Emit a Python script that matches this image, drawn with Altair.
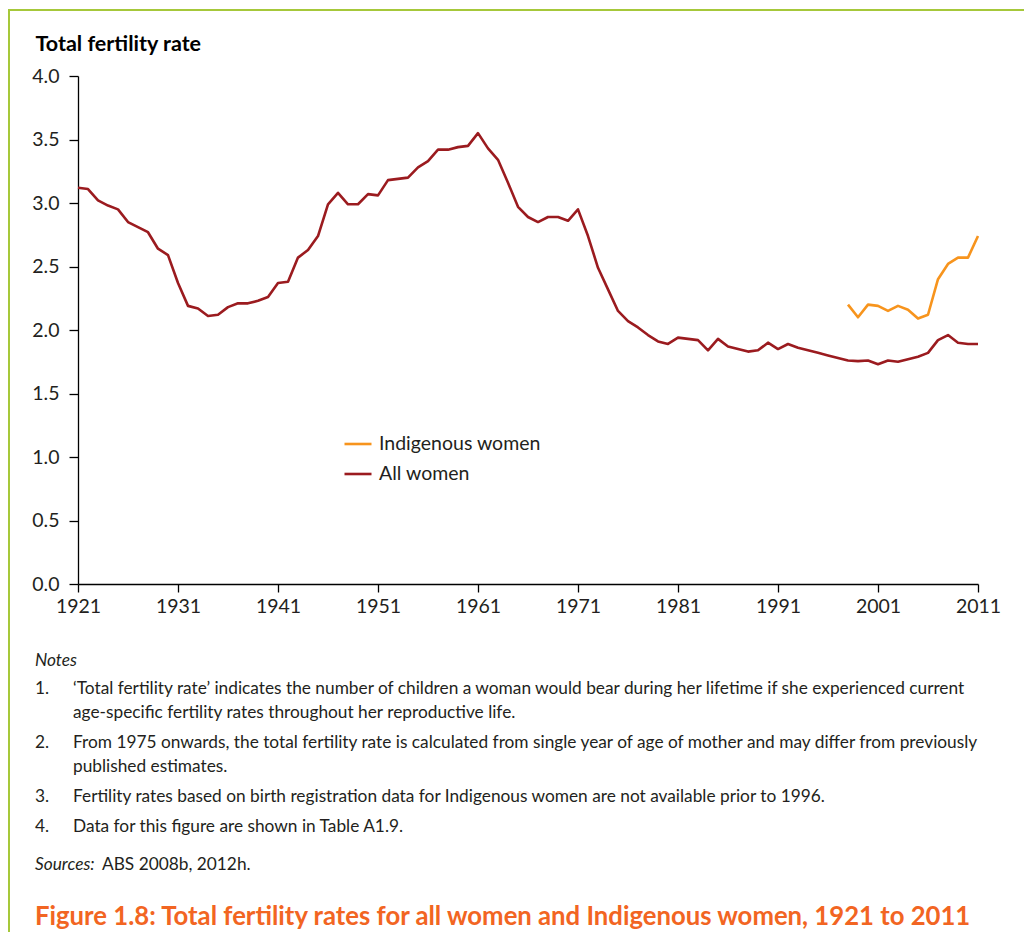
import altair as alt
import pandas as pd

# ---------------- data ----------------
years_all = list(range(1921, 2012))
all_women = [
    3.12, 3.11, 3.02, 2.98, 2.95, 2.85, 2.81, 2.77, 2.64, 2.59,   # 1921-1930
    2.37, 2.19, 2.17, 2.11, 2.12, 2.18, 2.21, 2.21, 2.23, 2.26,   # 1931-1940
    2.37, 2.38, 2.57, 2.63, 2.74, 2.99, 3.08, 2.99, 2.99, 3.07,   # 1941-1950
    3.06, 3.18, 3.19, 3.20, 3.28, 3.33, 3.42, 3.42, 3.44, 3.45,   # 1951-1960
    3.55, 3.43, 3.34, 3.16, 2.97, 2.89, 2.85, 2.89, 2.89, 2.86,   # 1961-1970
    2.95, 2.74, 2.49, 2.32, 2.15, 2.07, 2.02, 1.96, 1.91, 1.89,   # 1971-1980
    1.94, 1.93, 1.92, 1.84, 1.93, 1.87, 1.85, 1.83, 1.84, 1.90,   # 1981-1990
    1.85, 1.89, 1.86, 1.84, 1.82, 1.80, 1.78, 1.76, 1.755, 1.76,  # 1991-2000
    1.73, 1.76, 1.75, 1.77, 1.79, 1.82, 1.92, 1.96, 1.90, 1.89,   # 2001-2010
    1.89,                                                         # 2011
]
years_indig = list(range(1998, 2012))
indigenous = [2.20, 2.10, 2.20, 2.19, 2.15, 2.19, 2.16, 2.09, 2.12, 2.40,
              2.52, 2.57, 2.57, 2.74]

series_names = ["Indigenous women", "All women"]
x_ticks = [1921, 1931, 1941, 1951, 1961, 1971, 1981, 1991, 2001, 2011]
y_ticks = [0.0, 0.5, 1.0, 1.5, 2.0, 2.5, 3.0, 3.5, 4.0]

axis_title = "Total fertility rate"
notes_head = "Notes"
note_numbers = ["1.", "2.", "3.", "4."]
note_lines = [
    ["\u2018Total fertility rate\u2019 indicates the number of children a woman would bear during her lifetime if she experienced current",
     "age-specific fertility rates throughout her reproductive life."],
    ["From 1975 onwards, the total fertility rate is calculated from single year of age of mother and may differ from previously",
     "published estimates."],
    ["Fertility rates based on birth registration data for Indigenous women are not available prior to 1996."],
    ["Data for this figure are shown in Table A1.9."],
]
sources_head = "Sources:"
sources_text = "ABS 2008b, 2012h."
figure_title = "Figure 1.8: Total fertility rates for all women and Indigenous women, 1921 to 2011"

df = pd.concat([
    pd.DataFrame({"year": years_all, "rate": all_women, "series": "All women"}),
    pd.DataFrame({"year": years_indig, "rate": indigenous, "series": "Indigenous women"}),
], ignore_index=True)

# ---------------- style ----------------
FONT = "Lato"
BLACK = "#231f20"
RED = "#9b1b1f"
ORANGE = "#f7941d"
TITLE_ORANGE = "#f26522"
GREEN = "#a6c83a"
W, H = 900, 508
NOTE_SIZE = 17.3

lines = alt.Chart(df).mark_line(strokeWidth=2.6, strokeJoin="round").encode(
    x=alt.X("year:Q",
            scale=alt.Scale(domain=[1921, 2011], nice=False, zero=False),
            axis=alt.Axis(values=x_ticks, format="d", title=None, labelFlush=False,
                          labelOverlap=False)),
    y=alt.Y("rate:Q",
            scale=alt.Scale(domain=[0, 4], nice=False),
            axis=alt.Axis(values=y_ticks, format=".1f", title=axis_title,
                          titleAngle=0, titleAlign="left", titleBaseline="alphabetic",
                          titleX=-43, titleY=-26, titleFont=FONT, titleFontSize=21.5,
                          titleFontWeight="bold", titleColor="black",
                          tickSize=9, labelPadding=10, labelFlush=False,
                          labelOverlap=False)),
    color=alt.Color("series:N",
                    scale=alt.Scale(domain=series_names, range=[ORANGE, RED]),
                    legend=alt.Legend(title=None, orient="none", legendX=265, legendY=353,
                                      symbolType="stroke", symbolSize=729,
                                      symbolStrokeWidth=2.6, labelFont=FONT,
                                      labelFontSize=19.5, labelColor=BLACK,
                                      labelOffset=6, labelLimit=0, rowPadding=5,
                                      padding=0)),
)


def txt(text, x, y, size=NOTE_SIZE, style="normal", weight="normal", color=BLACK):
    return alt.Chart(pd.DataFrame({"t": [text]})).mark_text(
        align="left", baseline="alphabetic", font=FONT, fontSize=size,
        fontStyle=style, fontWeight=weight, color=color,
    ).encode(text="t:N", x=alt.value(x), y=alt.value(y))


layers = [lines]
layers.append(txt(notes_head, -43, 590, style="italic"))
note_y = [[618, 642], [672, 696], [726], [756]]
for num, lns, ys in zip(note_numbers, note_lines, note_y):
    layers.append(txt(num, -43, ys[0]))
    for ln, yy in zip(lns, ys):
        layers.append(txt(ln, -5, yy))
layers.append(txt(sources_head, -43, 794, style="italic"))
layers.append(txt(sources_text, 24, 794))
layers.append(txt(figure_title, -43, 849, size=25.7, weight="bold", color=TITLE_ORANGE))

dummy = pd.DataFrame({"a": [0]})
top_border = alt.Chart(dummy).mark_rule(color=GREEN, strokeWidth=2).encode(
    x=alt.value(-70), x2=alt.value(946), y=alt.value(-66))
left_border = alt.Chart(dummy).mark_rule(color=GREEN, strokeWidth=2).encode(
    x=alt.value(-69), y=alt.value(-67), y2=alt.value(860))
layers += [top_border, left_border]

chart = alt.layer(*layers).properties(
    width=W, height=H,
    padding={"left": 70, "top": 68, "right": 46, "bottom": 348},
    autosize=alt.AutoSizeParams(type="none"),
).configure_view(stroke=None).configure_axis(
    grid=False, domainColor="black", domainWidth=1.3, tickColor="black",
    tickWidth=1.3, labelFont=FONT, labelFontSize=19.5, labelColor=BLACK,
).configure_axisX(tickSize=8, labelPadding=5)

chart.save("out.html", embed_options={"renderer": "svg", "actions": False})
